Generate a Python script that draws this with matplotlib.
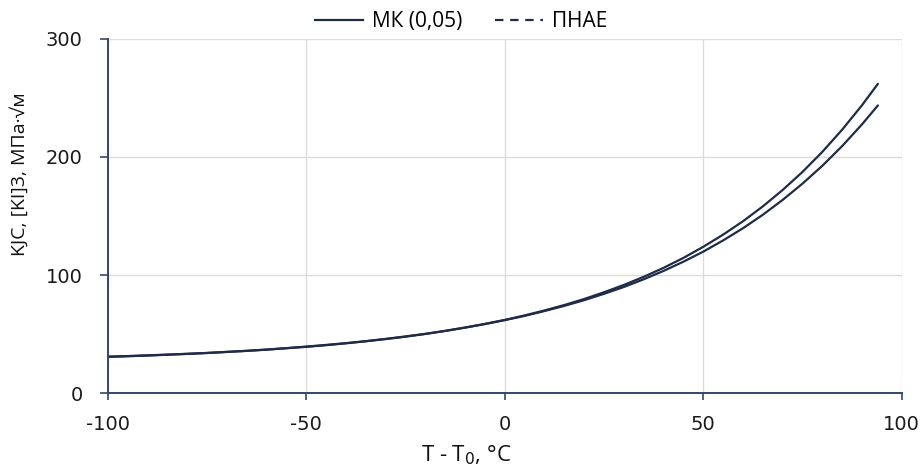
import matplotlib
matplotlib.use("Agg")
import matplotlib.pyplot as plt
from matplotlib.lines import Line2D

plt.rcParams["axes.unicode_minus"] = False

# Temperature relative to T0, °C
temps = [-100, -95, -90, -85, -80, -75, -70, -65, -60, -55, -50, -45, -40,
         -35, -30, -25, -20, -15, -10, -5, 0, 5, 10, 15, 20, 25, 30, 35,
         40, 45, 50, 55, 60, 65, 70, 75, 80, 85, 90, 94]

# Master curve, 5% probability level
mk_005 = [30.7, 31.2, 31.8, 32.5, 33.2, 34.0, 34.9, 35.8, 36.9, 38.1, 39.4,
          40.8, 42.3, 44.0, 45.9, 48.0, 50.2, 52.7, 55.5, 58.5, 61.8, 65.4,
          69.5, 73.9, 78.7, 84.1, 89.9, 96.4, 103.5, 111.3, 119.8, 129.3,
          139.6, 151.0, 163.6, 177.4, 192.5, 209.2, 227.6, 243.6]

# Allowable stress intensity curve [KI]3
pnae = [30.9, 31.4, 32.0, 32.6, 33.3, 34.0, 34.9, 35.8, 36.8, 38.0, 39.2,
        40.6, 42.2, 43.9, 45.8, 47.8, 50.1, 52.7, 55.5, 58.6, 62.0, 65.8,
        70.0, 74.6, 79.7, 85.4, 91.6, 98.5, 106.1, 114.5, 123.9, 134.2,
        145.5, 158.1, 172.0, 187.3, 204.3, 223.1, 243.8, 261.9]

legend_labels = ["МК (0,05)", "ПНАЕ"]
x_ticks = [-100, -50, 0, 50, 100]
y_ticks = [0, 100, 200, 300]

navy = "#1f2b47"
axis_col = "#34476a"
grid_col = "#dcdcdc"
label_font = ["Open Sans", "DejaVu Sans"]

fig = plt.figure(figsize=(9.22, 4.68), dpi=100)
ax = fig.add_axes([0.117, 0.160, 0.861, 0.757])

ax.plot(temps, mk_005, color=navy, lw=1.6, solid_capstyle="round")
ax.plot(temps, pnae, color=navy, lw=1.6, solid_capstyle="round")

ax.set_xlim(-100, 100)
ax.set_ylim(0, 300)
ax.set_xticks(x_ticks)
ax.set_yticks(y_ticks)
ax.grid(True, color=grid_col, lw=1.0)
ax.set_axisbelow(True)

for side in ("top", "right"):
    ax.spines[side].set_visible(False)
for side in ("left", "bottom"):
    ax.spines[side].set_color(axis_col)
    ax.spines[side].set_linewidth(1.4)

ax.tick_params(axis="both", colors=axis_col, width=1.2,
               labelcolor="#1a1a1a", labelsize=14)
ax.tick_params(axis="x", length=5, pad=11)
ax.tick_params(axis="y", length=6, pad=12)

ax.set_xlabel("T - T$_0$, °C", fontsize=16, family=label_font,
              color="#111111")
ax.xaxis.set_label_coords(0.451, -0.143)
ax.set_ylabel("KJC, [KI]3, МПа·√м", fontsize=14, family=label_font,
              color="#111111")
ax.yaxis.set_label_coords(-0.0995, 0.617)

handles = [
    Line2D([], [], color=navy, lw=1.6, ls="-"),
    Line2D([], [], color=navy, lw=1.6, ls=(0, (3.8, 3.0))),
]
ax.legend(handles, legend_labels, loc="center",
          bbox_to_anchor=(0.445, 1.049), ncol=2, frameon=False,
          prop={"family": label_font, "size": 15},
          handlelength=2.3, columnspacing=1.6, handletextpad=0.4,
          borderaxespad=0.0, borderpad=0.0)

fig.savefig("out.png", dpi=100, facecolor="white")
